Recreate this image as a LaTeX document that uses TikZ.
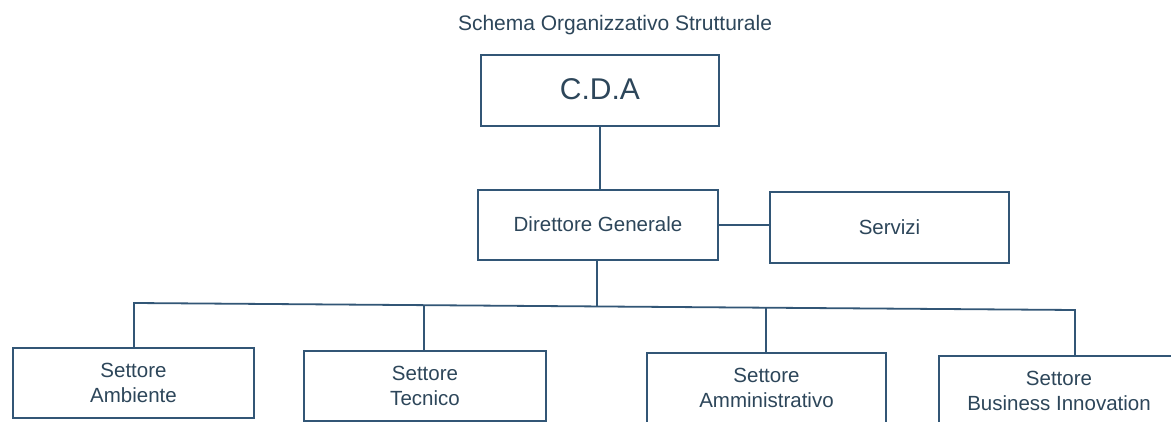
\documentclass[tikz,border=0pt]{standalone}
\usepackage{fontspec}
\setmainfont{Liberation Sans}
\definecolor{linec}{RGB}{50,86,118}
\definecolor{textc}{RGB}{45,70,90}
\tikzset{
  orgbox/.style={draw=linec, line width=1.7pt, rectangle, inner sep=0pt,
    text=textc, align=center, font=\fontsize{20.5}{24.5}\selectfont},
  conn/.style={draw=linec, line width=1.8pt},
  titletext/.style={text=textc, font=\fontsize{21}{24}\selectfont, inner sep=0pt}
}
\begin{document}
\begin{tikzpicture}[x=1pt,y=-1pt]
\useasboundingbox (0,0) rectangle (1171,422);
\clip (0,0) rectangle (1171,422);
\fill[white] (0,0) rectangle (1171,422);

\node[titletext, anchor=base] (title) at (615,31) {Schema Organizzativo Strutturale};

\node[orgbox, minimum width=238pt, minimum height=71pt, font=\fontsize{30}{34}\selectfont] (cda) at (600,90.5) {\raisebox{3pt}{C.D.A}};
\node[orgbox, minimum width=240pt, minimum height=70pt] (dg) at (598,225) {\raisebox{2pt}{Direttore Generale}};
\node[orgbox, minimum width=239pt, minimum height=71pt] (srv) at (889.5,227.5) {Servizi};

\node[orgbox, minimum width=241pt, minimum height=70pt] (amb) at (133.5,383) {Settore\\Ambiente};
\node[orgbox, minimum width=242pt, minimum height=70pt] (tec) at (425,386) {Settore\\Tecnico};
\node[orgbox, minimum width=239pt, minimum height=70pt] (amm) at (766.5,388) {Settore\\Amministrativo};
\node[orgbox, minimum width=240pt, minimum height=70pt] (biz) at (1059,391) {Settore\\Business Innovation};

% bus coordinates (slightly sloped, as in the scan)
\coordinate (b1) at (134,303);
\coordinate (b2) at (424,305.2);
\coordinate (bdg) at (597,306.4);
\coordinate (b3) at (766,307.7);
\coordinate (b4) at (1075,310);

\draw[conn] (cda.south) -- (cda.south |- dg.north);
\draw[conn] (dg.east) -- (dg.east -| srv.west);
\draw[conn] (dg.south -| bdg) -- (bdg);
\draw[conn] (b1 |- amb.north) -- (b1) -- (b4) -- (b4 |- biz.north);
\draw[conn] (b2) -- (b2 |- tec.north);
\draw[conn] (b3) -- (b3 |- amm.north);
\end{tikzpicture}
\end{document}
